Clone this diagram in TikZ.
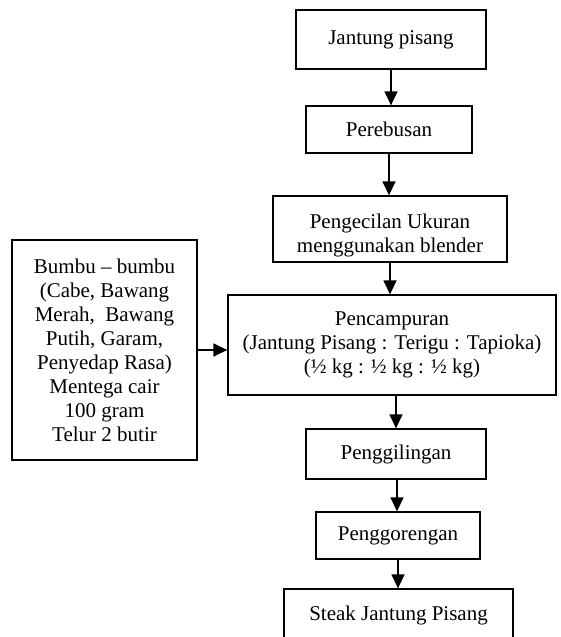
\documentclass[tikz,border=0pt]{standalone}
\usepackage{fontspec}
\setmainfont{Liberation Serif}
\usetikzlibrary{arrows.meta}
\tikzset{
  proc/.style={draw, line width=1.3pt, align=center, inner sep=0pt,
    font=\fontsize{21}{24}\selectfont},
  teks/.style={align=center, inner sep=0pt, font=\fontsize{21}{24}\selectfont},
  flow/.style={line width=1.4pt, -{Triangle[length=14pt,width=13pt]}}
}
\begin{document}
\begin{tikzpicture}[x=1pt,y=-1pt]
\useasboundingbox (0,0) rectangle (561,637);
% langkah-langkah proses
\node[proc,minimum width=190pt,minimum height=59pt] (jantung) at (391,39.5) {Jantung pisang};
\node[proc,minimum width=166pt,minimum height=47pt] (rebus) at (389,129.5) {Perebusan};
\node[proc,minimum width=234pt,minimum height=66pt] (kecil) at (390,229) {};
\node[teks] (kecil-teks) at (390,235) {Pengecilan Ukuran\\menggunakan blender};
\node[proc,minimum width=328pt,minimum height=100pt] (campur) at (392,345) {Pencampuran\\(Jantung Pisang : Terigu : Tapioka)\\(½ kg : ½ kg : ½ kg)};
\node[proc,minimum width=180pt,minimum height=50pt] (giling) at (396,454) {Penggilingan};
\node[proc,minimum width=164pt,minimum height=47pt] (goreng) at (398,535.5) {Penggorengan};
\node[proc,minimum width=229pt,minimum height=52pt] (steak) at (398.5,615) {Steak Jantung Pisang};
% bahan tambahan
\node[proc,minimum width=185pt,minimum height=220pt] (bumbu) at (104.5,350) {Bumbu – bumbu\\(Cabe, Bawang\\Merah,~ Bawang\\Putih, Garam,\\Penyedap Rasa)\\Mentega cair\\100 gram\\Telur 2 butir};
% panah
\draw[flow] (jantung.south) -- (jantung.south |- rebus.north);
\draw[flow] (rebus.south) -- (rebus.south |- kecil.north);
\draw[flow] (kecil.south) -- (kecil.south |- campur.north);
\draw[flow] ([xshift=4pt]campur.south) -- ([xshift=4pt]campur.south |- giling.north);
\draw[flow] ([xshift=1pt]giling.south) -- ([xshift=1pt]giling.south |- goreng.north);
\draw[flow] (goreng.south) -- (goreng.south |- steak.north);
\draw[flow] (bumbu.east) -- (bumbu.east -| campur.west);
\end{tikzpicture}
\end{document}
